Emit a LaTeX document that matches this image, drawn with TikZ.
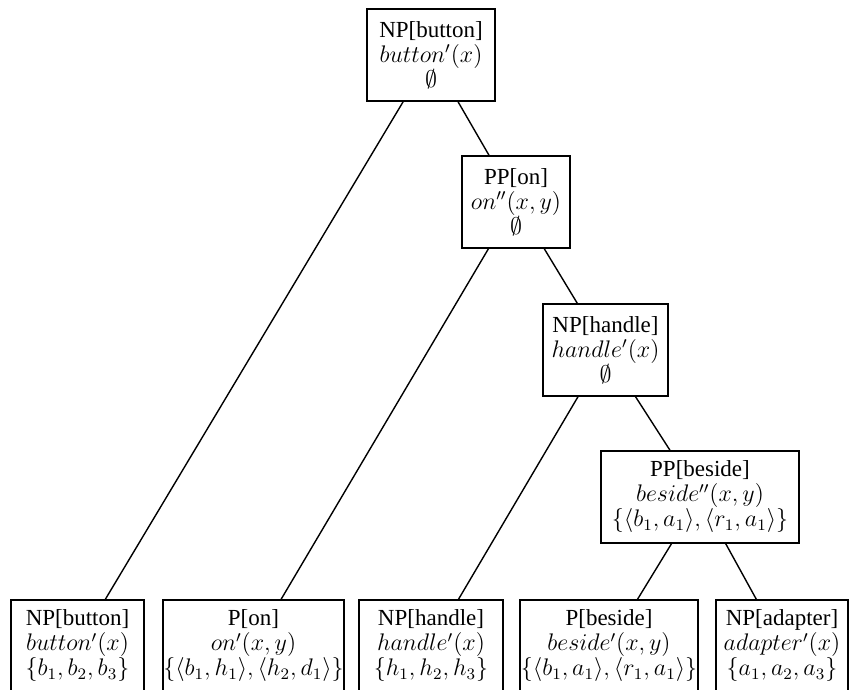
\documentclass[tikz,border=0pt]{standalone}
\usepackage[no-math]{fontspec}
\setmainfont{Liberation Serif}
\begin{document}
\begin{tikzpicture}[x=0.5pt,y=-0.5pt,
  box/.style={draw, line width=0.7pt, rectangle, align=center, inner sep=0pt,
    minimum height=46pt, font=\fontsize{11.5}{12.5}\selectfont},
  edge/.style={line width=0.7pt}]
\useasboundingbox (0,0) rectangle (849,689);
\clip (0,0) rectangle (849,689);
% inner nodes
\node[box, minimum width=64pt]   (npbutton) at (431,55)    {NP[button]\\$button'(x)$\\$\emptyset$};
\node[box, minimum width=54pt]   (pp-on)    at (516,202)   {PP[on]\\$on''(x,y)$\\$\emptyset$};
\node[box, minimum width=62.5pt] (nphandle) at (605.5,350) {NP[handle]\\$handle'(x)$\\$\emptyset$};
\node[box, minimum width=99pt]   (ppbeside) at (700,497)   {PP[beside]\\$beside''(x,y)$\\$\{\langle b_1,a_1\rangle,\langle r_1,a_1\rangle\}$};
% leaves
\node[box, minimum width=66.5pt] (lbutton)  at (77.5,646)  {NP[button]\\$button'(x)$\\$\{b_1,b_2,b_3\}$};
\node[box, minimum width=90.5pt] (lon)      at (253.5,646) {P[on]\\$on'(x,y)$\\$\{\langle b_1,h_1\rangle,\langle h_2,d_1\rangle\}$};
\node[box, minimum width=72pt]   (lhandle)  at (431,646)   {NP[handle]\\$handle'(x)$\\$\{h_1,h_2,h_3\}$};
\node[box, minimum width=89pt]   (lbeside)  at (609,646)   {P[beside]\\$beside'(x,y)$\\$\{\langle b_1,a_1\rangle,\langle r_1,a_1\rangle\}$};
\node[box, minimum width=66pt]   (ladapter) at (782,646)   {NP[adapter]\\$adapter'(x)$\\$\{a_1,a_2,a_3\}$};
% edges
\draw[edge] (npbutton) -- (lbutton);
\draw[edge] (npbutton) -- (pp-on);
\draw[edge] (pp-on) -- (lon);
\draw[edge] (pp-on) -- (nphandle);
\draw[edge] (nphandle) -- (lhandle);
\draw[edge] (nphandle) -- (ppbeside);
\draw[edge] (ppbeside) -- (lbeside);
\draw[edge] (ppbeside) -- (ladapter);
\end{tikzpicture}
\end{document}
